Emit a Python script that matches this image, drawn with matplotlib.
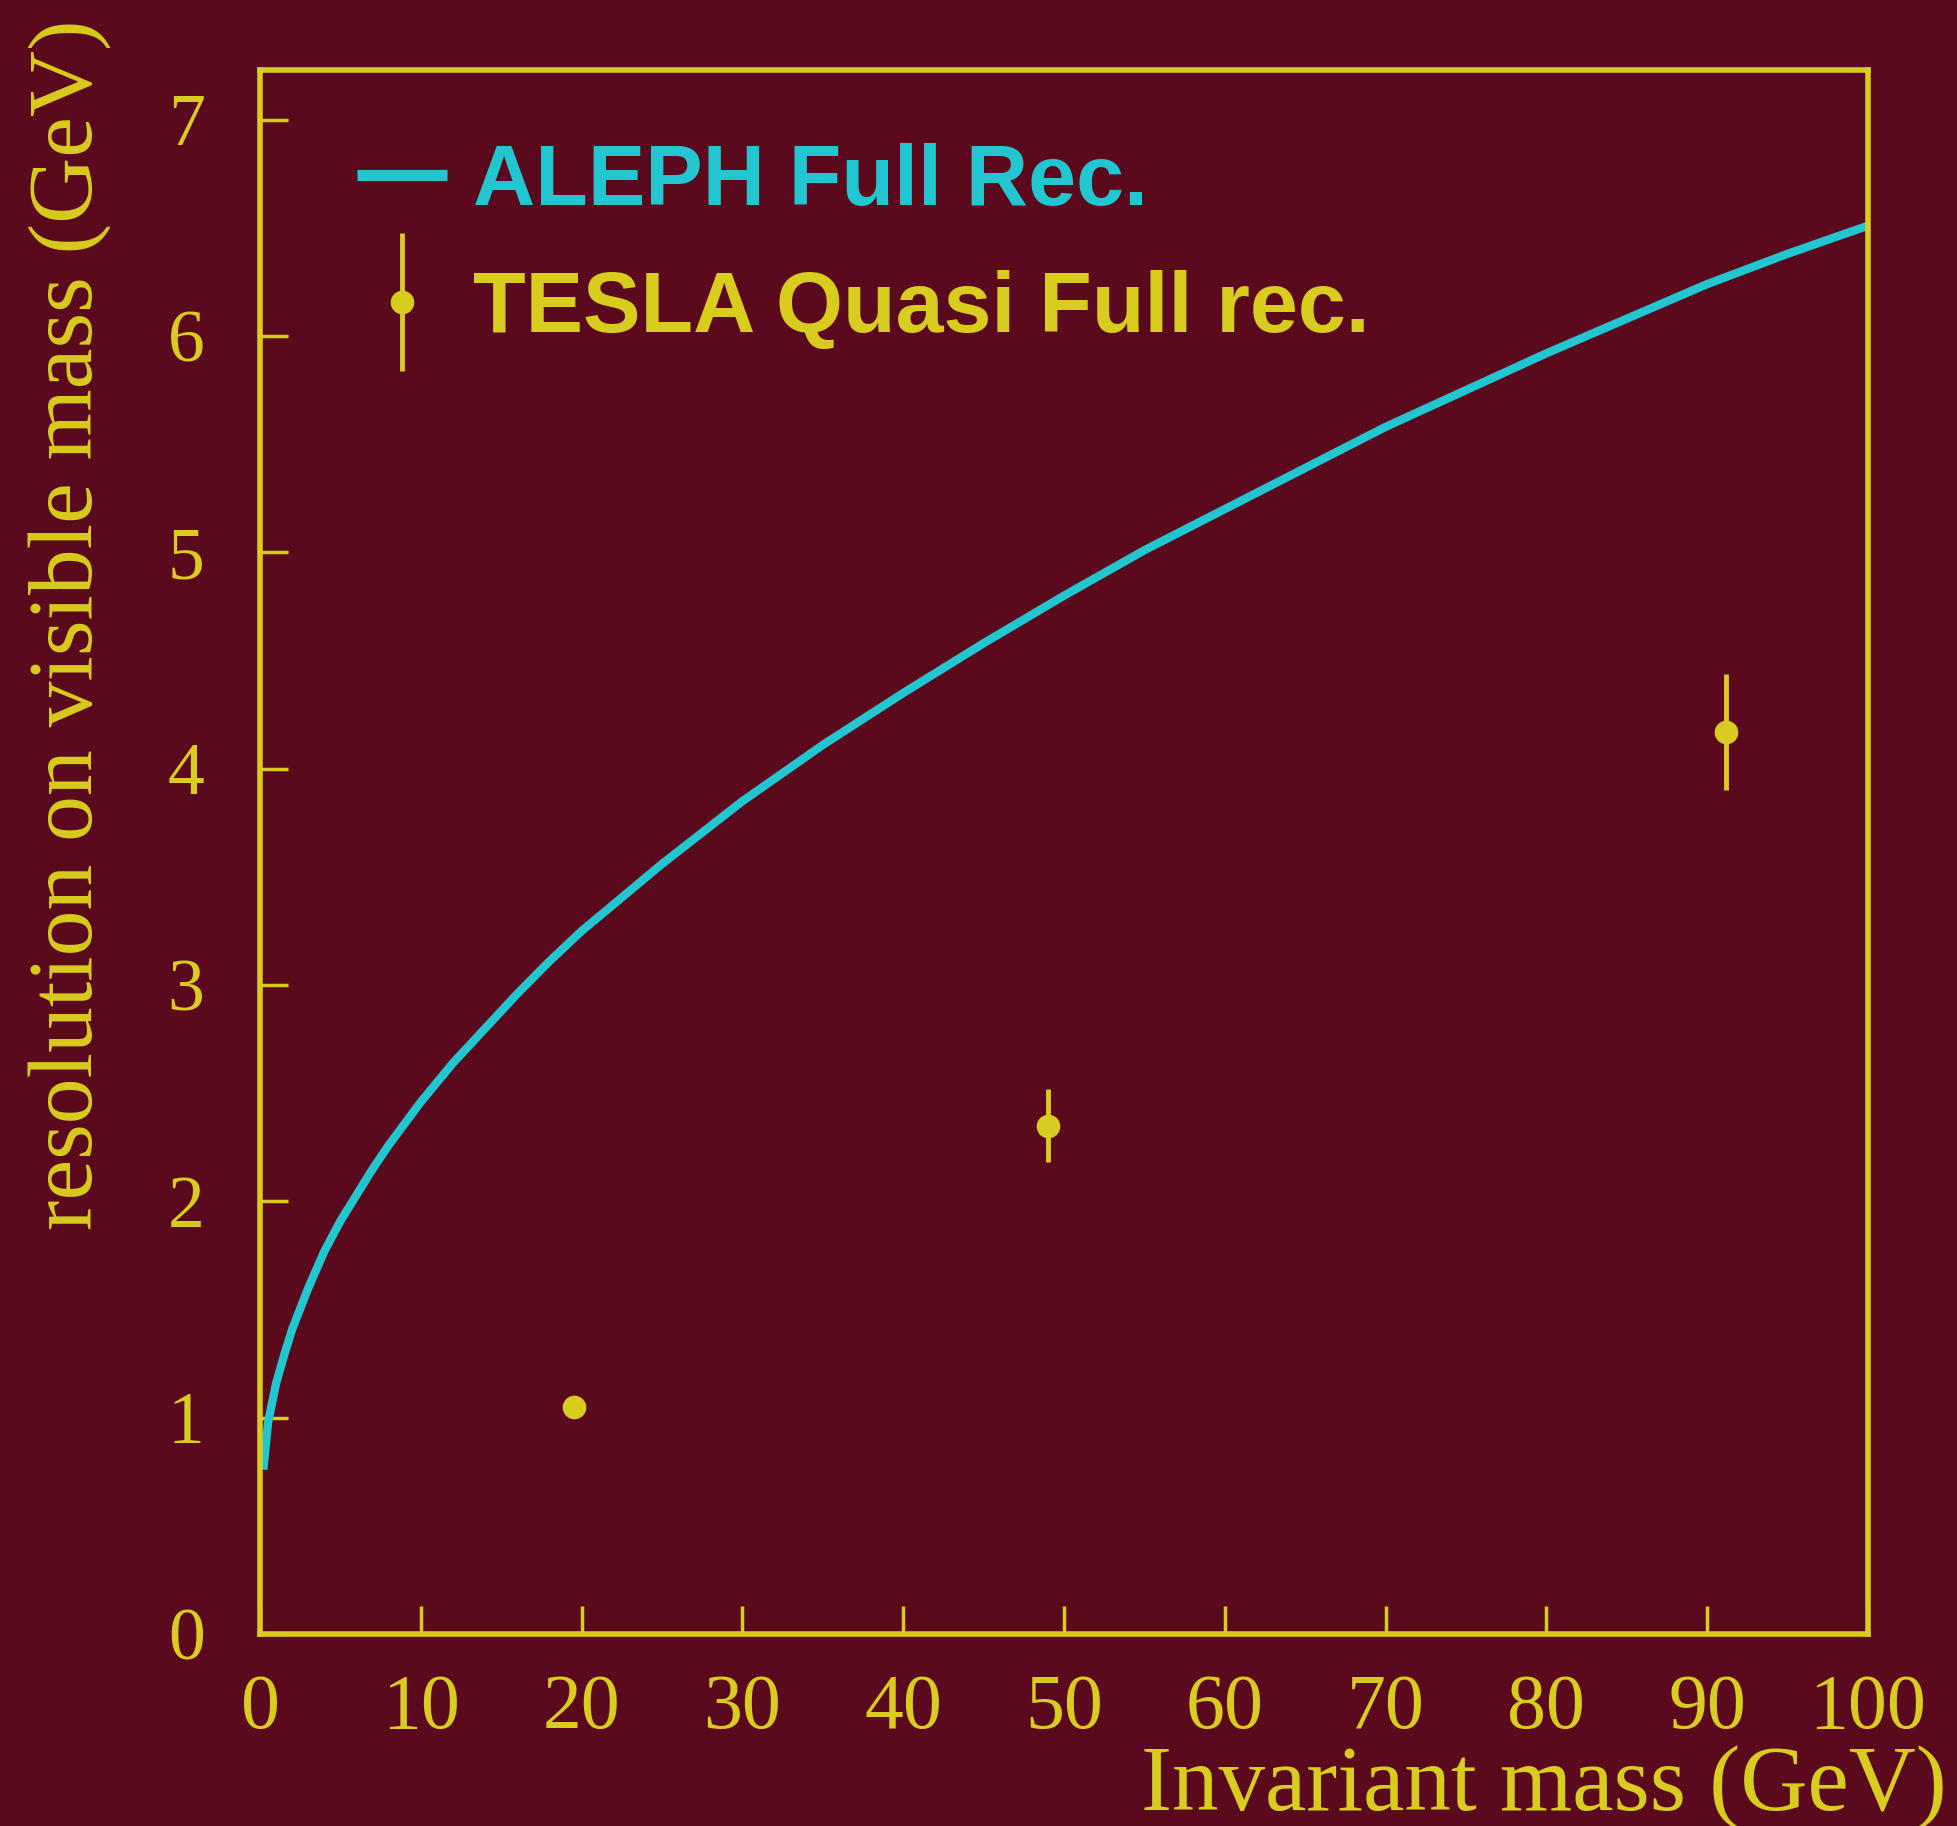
import matplotlib
matplotlib.use("Agg")
import matplotlib.pyplot as plt
from matplotlib.container import ErrorbarContainer
from matplotlib.legend_handler import HandlerErrorbar

# colours of the original ROOT-style picture
BG = '#5b0a1d'
YELLOW = '#d8cc1e'
CYAN = '#22c6d0'

# ALEPH full reconstruction curve
aleph_mass = [0.2, 0.5, 1, 1.5, 2, 3, 4, 5, 6, 7, 8, 10, 12, 14, 16, 18, 20,
              25, 30, 35, 40, 45, 50, 55, 60, 65, 70, 75, 80, 85, 90, 95, 100]
aleph_res = [0.76, 0.98, 1.16, 1.29, 1.41, 1.60, 1.77, 1.91, 2.03, 2.15, 2.26,
             2.46, 2.64, 2.80, 2.96, 3.11, 3.25, 3.56, 3.85, 4.11, 4.35, 4.58,
             4.80, 5.01, 5.20, 5.39, 5.58, 5.75, 5.92, 6.08, 6.24, 6.38, 6.51]

# TESLA quasi full reconstruction points
tesla_mass = [19.5, 49.0, 91.2]
tesla_res = [1.05, 2.35, 4.17]
tesla_err = [0.05, 0.17, 0.27]

x_ticks = [0, 10, 20, 30, 40, 50, 60, 70, 80, 90, 100]
y_ticks = [0, 1, 2, 3, 4, 5, 6, 7]

fig = plt.figure(figsize=(19.57, 18.26), dpi=100, facecolor=BG)
ax = fig.add_axes([0.1329, 0.1051, 0.8216, 0.8566], facecolor=BG)

line, = ax.plot(aleph_mass, aleph_res, color=CYAN, lw=6,
                solid_capstyle='butt', solid_joinstyle='round',
                label='ALEPH Full Rec.')
eb = ax.errorbar(tesla_mass, tesla_res, yerr=tesla_err, fmt='o', color=YELLOW,
                 ms=16, elinewidth=3.5, capsize=0, label='TESLA Quasi Full rec.')

ax.set_xlim(0, 100)
ax.set_ylim(0, 7.23)
ax.set_xticks(x_ticks)
ax.set_yticks(y_ticks)

for s in ax.spines.values():
    s.set_color(YELLOW)
    s.set_linewidth(4)

ax.tick_params(axis='both', direction='in', length=20, width=2.5,
               color=YELLOW, labelcolor=YELLOW, labelsize=53,
               top=False, right=False)
ax.tick_params(axis='x', labelsize=56, pad=28)
ax.tick_params(axis='y', pad=40)
for lab in ax.get_xticklabels() + ax.get_yticklabels():
    lab.set_family('Liberation Serif')

# axis titles, ROOT style (aligned to the ends)
fig.text(0.9949, 0.0088, 'Invariant mass (GeV)', ha='right', va='baseline',
         color=YELLOW, fontsize=67, family='Liberation Serif')
fig.text(0.0353, 1 - 19 / 1826, 'resolution on visible mass (GeV)',
         rotation=90, ha='center', va='top', color=YELLOW, fontsize=66,
         family='Liberation Serif')

leg = ax.legend(handles=[line, eb], loc='upper left',
                bbox_to_anchor=(0.012, 1.003), frameon=False,
                prop={'family': 'Liberation Sans', 'weight': 'bold', 'size': 62},
                handlelength=1.05, handletextpad=0.3, labelspacing=0.55,
                handler_map={ErrorbarContainer: HandlerErrorbar(yerr_size=0.8)})
for txt, c in zip(leg.get_texts(), [CYAN, YELLOW]):
    txt.set_color(c)
leg.get_lines()[0].set_linewidth(8)

fig.savefig('out.png', dpi=100, facecolor=BG)
